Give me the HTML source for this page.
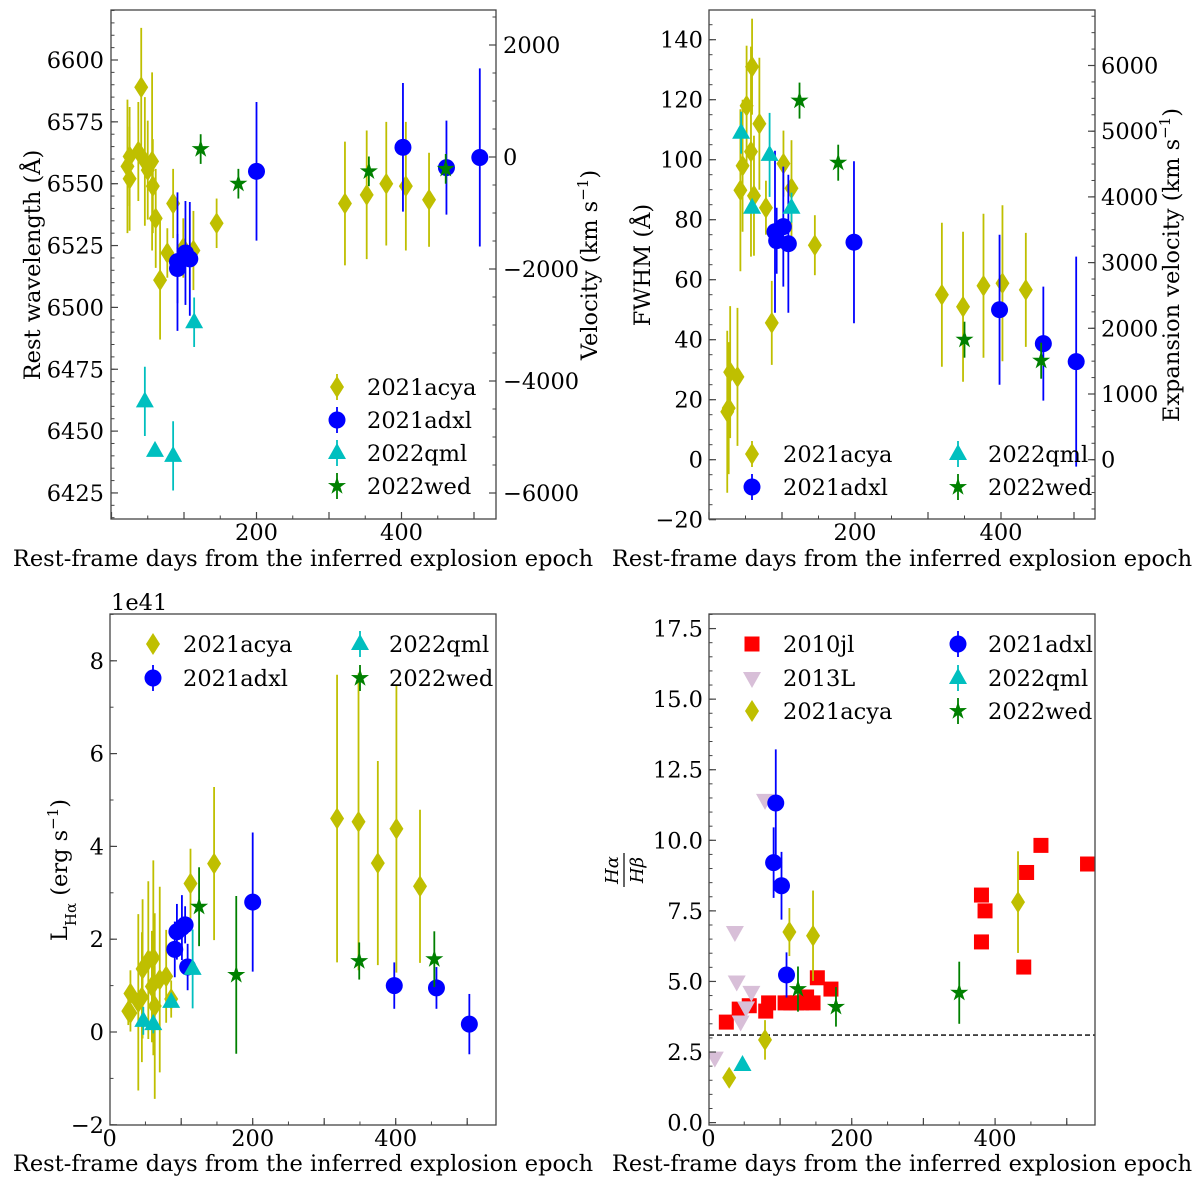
<!DOCTYPE html>
<html><head><meta charset="utf-8"><style>
html,body{margin:0;padding:0;background:#fff}
svg{display:block;font-family:"DejaVu Serif","Liberation Serif",serif}
</style></head><body>
<svg id="fig" width="1200" height="1185" viewBox="0 0 1200 1185" xmlns="http://www.w3.org/2000/svg"></svg>
<script>
// ---------- Panel 1: rest wavelength ----------
const p1AcyaDays=[22,25,25,37,41,46,50,56,57,61,67,77,85,99,113,145,322,352,379,406,438];
const p1AcyaVals=[6557,6552,6561,6563,6589,6559,6555.5,6559,6549,6536,6511,6522,6542,6524,6523,6534,6542,6545.5,6550,6549,6543.5];
const p1AcyaErrs=[27,21,20,20,24,26,20,36,19,20,24,10,14,12,16,10,25,26,25,26,19];
const p1AdxlDays=[91,91,102,108,200,402,462,508];
const p1AdxlVals=[6518.5,6515.7,6522,6519.6,6555,6564.7,6556.5,6560.6];
const p1AdxlErrs=[28,14,21,23,28,26,19,36];
const p1QmlDays=[46,60,85,114];
const p1QmlVals=[6462,6442,6440,6494];
const p1QmlErrs=[14,0,14,10];
const p1WedDays=[123,175,355,461];
const p1WedVals=[6564,6550,6555,6556];
const p1WedErrs=[6,6,6,6];
// ---------- Panel 2: FWHM ----------
const p2AcyaDays=[25,27,29,39,43,46,51.5,57.5,59,61.6,69,78,86,102,113,145,319,348,376,402,434];
const p2AcyaVals=[16,17.2,29.2,27.6,89.8,98,118,102.7,131,88,112,84,45.6,98.7,90.5,71.5,55,51,58,58.8,56.6];
const p2AcyaErrs=[27,22,22,23,27,22,20,35,16,20,22,9,14,11,16,10,24,25,24,26,19];
const p2AdxlDays=[90.4,92.7,101.8,108.7,198.6,398,458,503];
const p2AdxlVals=[76,73,77.7,72,72.5,50,38.7,32.7];
const p2AdxlErrs=[27,11,20,23,27,25,19,35];
const p2QmlDays=[44,59,83,113];
const p2QmlVals=[109,84,101.6,84];
const p2QmlErrs=[7,0,14,5];
const p2WedDays=[124,177,350,455];
const p2WedVals=[119.7,99,40,33];
const p2WedErrs=[6,6,6,6];
// ---------- Panel 3: L_Halpha (1e41) ----------
const p3AcyaDays=[26,29,29,40,45,46,54,59,61,63,70,79,86,113,146,318,348,375,401,434];
const p3AcyaVals=[0.45,0.83,0.41,0.64,0.75,1.36,1.55,0.98,1.6,0.56,1.13,1.2,0.71,3.2,3.63,4.6,4.53,3.64,4.38,3.14];
const p3AcyaErrs=[0.3,0.5,0.4,1.9,1.4,1.5,1.7,1.2,2.1,2,2,1,0.4,0.75,1.65,3.1,3.2,2.2,3.1,1.65];
const p3AdxlDays=[91,94,101,105.5,109,200,398,457,503];
const p3AdxlVals=[1.78,2.16,2.25,2.31,1.4,2.8,1.0,0.95,0.17];
const p3AdxlErrs=[0.6,0.6,0.7,0.4,0.5,1.5,0.5,0.45,0.65];
const p3QmlDays=[47,61,86,116];
const p3QmlVals=[0.24,0.17,0.65,1.36];
const p3QmlErrs=[0.3,0.2,0.1,0.85];
const p3WedDays=[125,177,349,454];
const p3WedVals=[2.7,1.23,1.53,1.57];
const p3WedErrs=[0.85,1.7,0.4,0.6];
// ---------- Panel 4: Balmer decrement ----------
const p4JlDays=[25,43,57,80,84,107,115,123,130,137,146,152,171,381,386,381,440,444,464,529];
const p4JlVals=[3.56,4.02,4.14,3.95,4.24,4.24,4.24,4.24,4.24,4.45,4.24,5.13,4.73,8.06,7.5,6.4,5.51,8.86,9.82,9.16];
const p4LDays=[9,37,39.5,45,52.5,60,79];
const p4LVals=[2.3,6.75,5.0,3.58,4.08,4.63,11.43];
const p4AcyaDays=[29,79,113,146,432];
const p4AcyaVals=[1.59,2.93,6.75,6.62,7.81];
const p4AcyaErrs=[0,0.7,0.85,1.6,1.8];
const p4AdxlDays=[94,91,102,109];
const p4AdxlVals=[11.32,9.21,8.39,5.23];
const p4AdxlErrs=[1.9,1.25,1.2,0.8];
const p4QmlDays=[47.6];
const p4QmlVals=[2.04];
const p4QmlErrs=[0.2];
const p4WedDays=[125,178,350];
const p4WedVals=[4.73,4.1,4.6];
const p4WedErrs=[0.8,0.7,1.1];
const p4CaseB=[3.1];
// tick values
const p1LeftTicks=[6425,6450,6475,6500,6525,6550,6575,6600];
const p1RightTicks=[-6000,-4000,-2000,0,2000];
const p2LeftTicks=[-20,0,20,40,60,80,100,120,140];
const p2RightTicks=[0,1000,2000,3000,4000,5000,6000];
const p3LeftTicks=[-2,0,2,4,6,8];
const p4LeftTicks=[0,2.5,5,7.5,10,12.5,15,17.5];
const topXTicks=[200,400];
const botXTicks=[0,200,400];

const FS=22.5;
const NS="http://www.w3.org/2000/svg";
const svg=document.getElementById('fig');
function el(tag,parent){const e=document.createElementNS(NS,tag);parent.appendChild(e);return e;}
const C={acya:'#bfbf00',adxl:'#0000ff',qml:'#00bfbf',wed:'#008000',jl:'#ff0000',L:'#d8bfd8'};

function makePanel(name,box,xf,yf){
  const g=el('g',svg);
  
  
  const clipId='clip-'+name;
  const cp=el('clipPath',g);cp.setAttribute('id',clipId);
  const cr=el('rect',cp);cr.setAttribute('x',box[0]);cr.setAttribute('y',box[1]);cr.setAttribute('width',box[2]-box[0]);cr.setAttribute('height',box[3]-box[1]);
  const data=el('g',g);data.setAttribute('clip-path','url(#'+clipId+')');
  
  
  return {g,data,box,xf,yf};
}
function frame(P){
  const r=el('rect',P.g);
  r.setAttribute('x',P.box[0]);r.setAttribute('y',P.box[1]);r.setAttribute('width',P.box[2]-P.box[0]);r.setAttribute('height',P.box[3]-P.box[1]);
  r.setAttribute('fill','none');r.setAttribute('stroke','#444');r.setAttribute('stroke-width','1.3');
  
  
}
function line(parent,x1,y1,x2,y2,color,w,dash){
  const l=el('line',parent);l.setAttribute('x1',x1);l.setAttribute('y1',y1);l.setAttribute('x2',x2);l.setAttribute('y2',y2);
  l.setAttribute('stroke',color);l.setAttribute('stroke-width',w);if(dash)l.setAttribute('stroke-dasharray',dash);return l;
}
function text(parent,x,y,s,anchor,size,rot){
  const t=el('text',parent);t.setAttribute('x',x);t.setAttribute('y',y);t.textContent=s;
  t.setAttribute('text-anchor',anchor||'middle');t.setAttribute('font-size',size||FS);t.setAttribute('fill','#000');
  if(rot)t.setAttribute('transform','rotate('+rot+' '+x+' '+y+')');return t;
}
function yAxis(P,map,majors,minStep,lo,hi,side,labelX,fmt){
  const g=el('g',P.g);
  
  
  const x=side==='left'?P.box[0]:P.box[2];const dir=side==='left'?1:-1;
  for(let v=Math.ceil(lo/minStep)*minStep;v<=hi;v+=minStep){const y=map(v);if(y<P.box[1]||y>P.box[3])continue;line(g,x,y,x+dir*3.5,y,'#444',1);}
  majors.forEach(v=>{const y=map(v);line(g,x,y,x+dir*7,y,'#444',1.2);
    const t=text(g,labelX,y+8,fmt(v),side==='left'?'end':'start',FS);
    
    });
}
function xAxis(P,majors,labelY){
  const g=el('g',P.g);
  
  
  const y=P.box[3];
  for(let v=0;v<=550;v+=50){const x=P.xf(v);if(x<P.box[0]||x>P.box[2])continue;line(g,x,y,x,y-3.5,'#444',1);}
  for(let v=0;v<=550;v+=100){const x=P.xf(v);if(x<P.box[0]||x>P.box[2])continue;line(g,x,y,x,y-7,'#444',1.2);}
  majors.forEach(v=>{const t=text(g,P.xf(v),labelY,String(v),'middle',FS);
    
    });
}
const fmtM=v=>(v<0?'\u2212':'')+Math.abs(v);
function marker(parent,type,x,y,color){
  let m;
  if(type==='o'){m=el('circle',parent);m.setAttribute('cx',x);m.setAttribute('cy',y);m.setAttribute('r',8.5);}
  else if(type==='s'){m=el('rect',parent);m.setAttribute('x',x-7.5);m.setAttribute('y',y-7.5);m.setAttribute('width',15);m.setAttribute('height',15);}
  else {m=el('path',parent);let d;
    if(type==='d')d=`M${x},${y-11}L${x+7},${y}L${x},${y+11}L${x-7},${y}Z`;
    else if(type==='^')d=`M${x},${y-10}L${x+9},${y+6}L${x-9},${y+6}Z`;
    else if(type==='v')d=`M${x},${y+10}L${x+9},${y-6}L${x-9},${y-6}Z`;
    else {d='';for(let i=0;i<10;i++){const r=i%2?3.6:9.5;const a=-Math.PI/2+i*Math.PI/5;d+=(i?'L':'M')+(x+r*Math.cos(a)).toFixed(2)+','+(y+r*Math.sin(a)).toFixed(2);}d+='Z';}
    m.setAttribute('d',d);}
  m.setAttribute('fill',color);
  return m;
}
function series(P,name,days,vals,errs,type,color){
  const g=el('g',P.data);
  
  
  days.forEach((d,i)=>{const x=P.xf(d),y=P.yf(vals[i]);
    if(errs&&errs[i]>0){const l=line(g,x,P.yf(vals[i]-errs[i]),x,P.yf(vals[i]+errs[i]),color,1.8);
      
      }
    const m=marker(g,type,x,y,color);
    
    
  });
}
function legendEntry(P,mx,tx,y,label,type,color,err){
  const g=el('g',P.g);
  
  
  if(err)line(g,mx,y-13,mx,y+13,color,1.8);
  marker(g,type,mx,y,color);
  text(g,tx,y+8,label,'start',FS);
}

// ===== Panel 1 =====
const P1=makePanel('panel-rest-wavelength',[111,10,496,519],d=>111.5+d*0.725,v=>60+(6600-v)*2.474);
series(P1,'series-2021acya',p1AcyaDays,p1AcyaVals,p1AcyaErrs,'d',C.acya);
series(P1,'series-2021adxl',p1AdxlDays,p1AdxlVals,p1AdxlErrs,'o',C.adxl);
series(P1,'series-2022qml',p1QmlDays,p1QmlVals,p1QmlErrs,'^',C.qml);
series(P1,'series-2022wed',p1WedDays,p1WedVals,p1WedErrs,'*',C.wed);
frame(P1);
yAxis(P1,P1.yf,p1LeftTicks,5,6410,6625,'left',104,v=>String(v));
yAxis(P1,v=>157-v*0.056,p1RightTicks,500,-6500,2700,'right',503,fmtM);
xAxis(P1,topXTicks,540);
legendEntry(P1,337,367,387,'2021acya','d',C.acya,true);
legendEntry(P1,337,367,420,'2021adxl','o',C.adxl,true);
legendEntry(P1,337,367,453,'2022qml','^',C.qml,true);
legendEntry(P1,337,367,486,'2022wed','*',C.wed,true);
let t;
t=text(svg,40,265,'Rest wavelength (\u00c5)','middle',FS,-90);


t=text(svg,597,265,'','middle',FS,-90);
t.innerHTML='Velocity (km s<tspan baseline-shift="super" font-size="15">\u22121</tspan>)';


t=text(svg,303,566,'Rest-frame days from the inferred explosion epoch','middle',FS);



// ===== Panel 2 =====
const P2=makePanel('panel-fwhm',[709,10,1095,519],d=>709+d*0.73,v=>459.7-v*3);
series(P2,'series-2021acya',p2AcyaDays,p2AcyaVals,p2AcyaErrs,'d',C.acya);
series(P2,'series-2021adxl',p2AdxlDays,p2AdxlVals,p2AdxlErrs,'o',C.adxl);
series(P2,'series-2022qml',p2QmlDays,p2QmlVals,p2QmlErrs,'^',C.qml);
series(P2,'series-2022wed',p2WedDays,p2WedVals,p2WedErrs,'*',C.wed);
frame(P2);
yAxis(P2,P2.yf,p2LeftTicks,5,-20,150,'left',703,fmtM);
yAxis(P2,v=>459.7-v*0.0657,p2RightTicks,250,-1000,6900,'right',1101,v=>String(v));
xAxis(P2,topXTicks,540);
legendEntry(P2,752,783,454,'2021acya','d',C.acya,true);
legendEntry(P2,752,783,487,'2021adxl','o',C.adxl,true);
legendEntry(P2,958,988,454,'2022qml','^',C.qml,true);
legendEntry(P2,958,988,487,'2022wed','*',C.wed,true);
t=text(svg,650,265,'FWHM (\u00c5)','middle',FS,-90);


t=text(svg,1179,265,'','middle',FS,-90);
t.innerHTML='Expansion velocity (km s<tspan baseline-shift="super" font-size="15">\u22121</tspan>)';


t=text(svg,902,566,'Rest-frame days from the inferred explosion epoch','middle',FS);



// ===== Panel 3 =====
const P3=makePanel('panel-luminosity',[110,614,496,1125],d=>109.7+d*0.715,v=>1032-v*46.4);
series(P3,'series-2021acya',p3AcyaDays,p3AcyaVals,p3AcyaErrs,'d',C.acya);
series(P3,'series-2021adxl',p3AdxlDays,p3AdxlVals,p3AdxlErrs,'o',C.adxl);
series(P3,'series-2022qml',p3QmlDays,p3QmlVals,p3QmlErrs,'^',C.qml);
series(P3,'series-2022wed',p3WedDays,p3WedVals,p3WedErrs,'*',C.wed);
frame(P3);
yAxis(P3,P3.yf,p3LeftTicks,1,-2,9,'left',104,fmtM);
xAxis(P3,botXTicks,1146);
legendEntry(P3,153,183,644,'2021acya','d',C.acya,false);
legendEntry(P3,153,183,678,'2021adxl','o',C.adxl,true);
legendEntry(P3,360,389,644,'2022qml','^',C.qml,true);
legendEntry(P3,360,389,678,'2022wed','*',C.wed,true);
t=text(svg,111,610,'1e41','start',FS);


t=text(svg,67,870,'','middle',FS,-90);
t.innerHTML='L<tspan baseline-shift="sub" font-size="15">H\u03b1</tspan> (erg s<tspan baseline-shift="super" font-size="15">\u22121</tspan>)';


t=text(svg,303,1171,'Rest-frame days from the inferred explosion epoch','middle',FS);



// ===== Panel 4 =====
const P4=makePanel('panel-balmer-decrement',[709,614,1095,1125],d=>708.4+d*0.7167,v=>1122.6-v*28.23);
p4CaseB.forEach(v=>{const l=line(P4.data,709,P4.yf(v),1095,P4.yf(v),'#000',1.3,'5,3');
  
  });
series(P4,'series-2010jl',p4JlDays,p4JlVals,null,'s',C.jl);
series(P4,'series-2013L',p4LDays,p4LVals,null,'v',C.L);
series(P4,'series-2021acya',p4AcyaDays,p4AcyaVals,p4AcyaErrs,'d',C.acya);
series(P4,'series-2021adxl',p4AdxlDays,p4AdxlVals,p4AdxlErrs,'o',C.adxl);
series(P4,'series-2022qml',p4QmlDays,p4QmlVals,p4QmlErrs,'^',C.qml);
series(P4,'series-2022wed',p4WedDays,p4WedVals,p4WedErrs,'*',C.wed);
frame(P4);
yAxis(P4,P4.yf,p4LeftTicks,0.5,0,18,'left',703,v=>v.toFixed(1));
xAxis(P4,botXTicks,1146);
legendEntry(P4,752,783,644,'2010jl','s',C.jl,false);
legendEntry(P4,752,783,678,'2013L','v',C.L,false);
legendEntry(P4,752,783,711,'2021acya','d',C.acya,false);
legendEntry(P4,958,988,644,'2021adxl','o',C.adxl,true);
legendEntry(P4,958,988,678,'2022qml','^',C.qml,true);
legendEntry(P4,958,988,711,'2022wed','*',C.wed,true);
const fr=el('g',svg);


fr.setAttribute('transform','rotate(-90 626 870)');
text(fr,626,862,'H\u03b1','middle',18).setAttribute('font-style','italic');
line(fr,609,868,643,868,'#000',1.2);
text(fr,626,887,'H\u03b2','middle',18).setAttribute('font-style','italic');
t=text(svg,902,1171,'Rest-frame days from the inferred explosion epoch','middle',FS);


</script>
</body></html>
